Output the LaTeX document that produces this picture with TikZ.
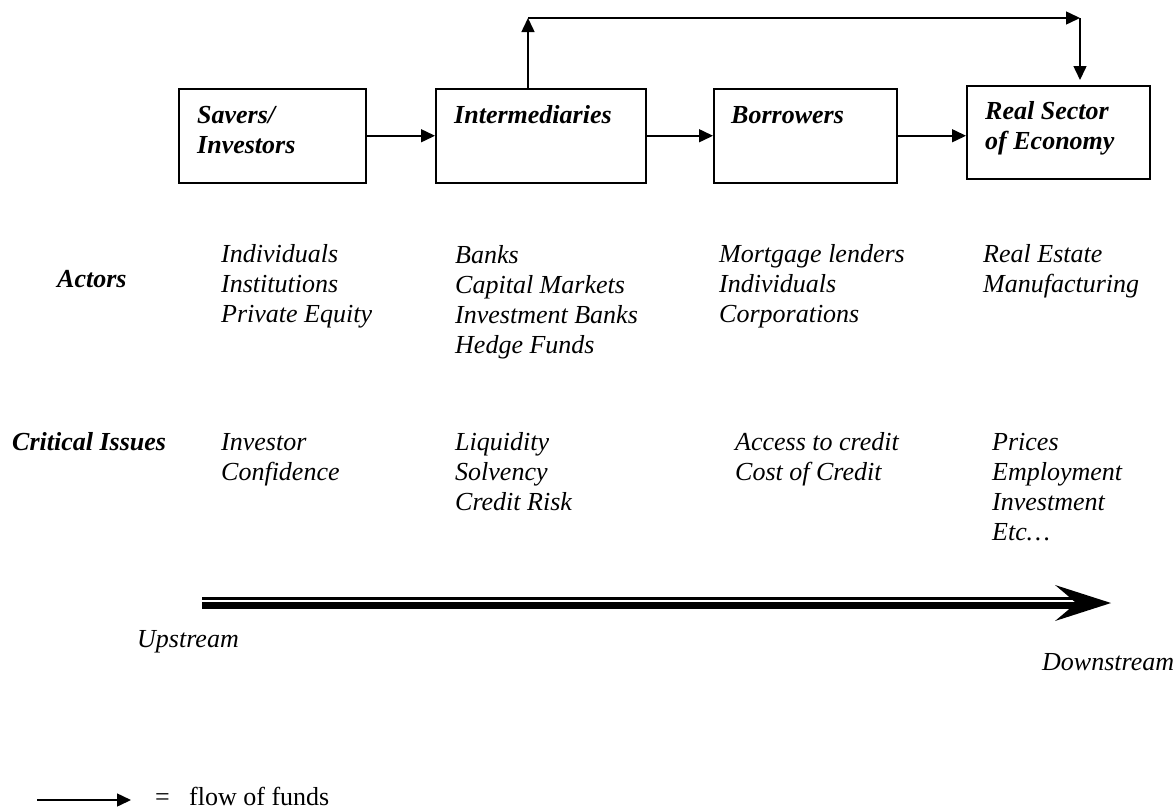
\documentclass[tikz,border=0pt]{standalone}
\usepackage{fontspec}
\setmainfont{Liberation Serif}
\usetikzlibrary{arrows.meta}
\begin{document}
\begin{tikzpicture}[x=1pt,y=-1pt,
  box/.style={draw, line width=1.5pt, inner sep=0pt, anchor=north west},
  lbl/.style={anchor=base west, inner sep=0pt, align=left, font=\fontsize{26}{30}\selectfont\bfseries\itshape},
  txt/.style={anchor=base west, inner sep=0pt, align=left, font=\fontsize{26}{30}\selectfont\itshape},
  plain/.style={anchor=base west, inner sep=0pt, font=\fontsize{26}{30}\selectfont},
  flow/.style={line width=1.5pt, -{Triangle[length=14pt,width=13pt]}},
]
\useasboundingbox (0,0) rectangle (1173,809);

% boxes
\node[box, minimum width=187pt, minimum height=94pt] (b1) at (178,88) {};
\node[box, minimum width=210pt, minimum height=94pt] (b2) at (435,88) {};
\node[box, minimum width=183pt, minimum height=94pt] (b3) at (713,88) {};
\node[box, minimum width=183pt, minimum height=93pt] (b4) at (966,85) {};

% (base anchor of a multi-line node = baseline of its last line)
\node[lbl] (l1) at (197,153) {Savers/\\Investors};
\node[lbl] (l2) at (454,123) {Intermediaries};
\node[lbl] (l3) at (731,123) {Borrowers};
\node[lbl] (l4) at (985,149) {Real Sector\\of Economy};

% flow arrows
\draw[flow] (b1.east) -- (b2.west);
\draw[flow] (b2.east) -- (b3.west);
\draw[flow] (b3.east) -- (b3.east -| b4.west);
\coordinate (t1) at (528,18);
\coordinate (t2) at (1080,18);
\draw[flow] (b2.north -| t1) -- (t1);
\draw[flow] (t1) -- (t2);
\draw[flow, shorten >=5pt] (t2) -- (t2 |- b4.north);

% rows
\node[lbl] (actors) at (57,287) {Actors};
\node[txt] (a1) at (221,322) {Individuals\\Institutions\\Private Equity};
\node[txt] (a2) at (455,353) {Banks\\Capital Markets\\Investment Banks\\Hedge Funds};
\node[txt] (a3) at (719,322) {Mortgage lenders\\Individuals\\Corporations};
\node[txt] (a4) at (983,292) {Real Estate\\Manufacturing};

\node[lbl] (crit) at (12,450) {Critical Issues};
\node[txt] (c1) at (221,480) {Investor\\Confidence};
\node[txt] (c2) at (455,510) {Liquidity\\Solvency\\Credit Risk};
\node[txt] (c3) at (735,480) {Access to credit\\Cost of Credit};
\node[txt] (c4) at (992,540) {Prices\\Employment\\Investment\\Etc\ldots};

% big upstream/downstream arrow
\fill (202,597) rectangle (1078,599.5);
\fill (202,601.5) rectangle (1080,608.5);
\fill (1111,603) -- (1055,585) .. controls (1067,595) .. (1076,603)
      .. controls (1067,611) .. (1055,621) -- cycle;
\node[txt] (up) at (137,647) {Upstream};
\node[txt] (down) at (1042,670) {Downstream};

% legend
\coordinate (g0) at (37,800);
\coordinate (g1) at (131,800);
\draw[flow] (g0) -- (g1);
\node[plain] (eq) at (155,805) {=};
\node[plain] (fof) at (189,805) {flow of funds};
\end{tikzpicture}
\end{document}
